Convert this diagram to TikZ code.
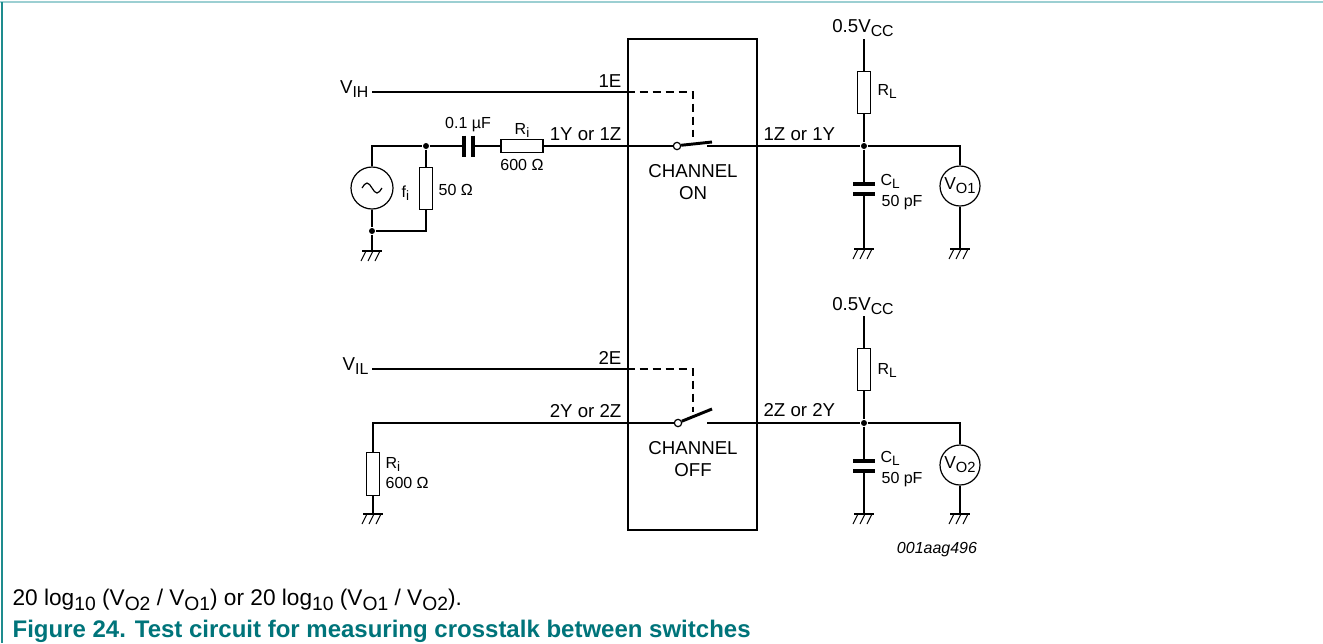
\documentclass[tikz,border=0pt]{standalone}
\usepackage{fontspec}
\setmainfont{Liberation Sans}
\usepackage{graphicx}
\usetikzlibrary{calc}
\definecolor{tealdark}{HTML}{1E8C8E}
\definecolor{teallight}{HTML}{9CCFD2}
\definecolor{capcol}{HTML}{00747A}
\newcommand\sbs[1]{\raisebox{-0.45ex}{\scalebox{0.85}{#1}}}
\begin{document}
\begin{tikzpicture}[x=0.75pt,y=-0.75pt,line width=0.9pt,
  lbl/.style={font=\fontsize{14}{16}\selectfont, inner sep=0pt},
  sml/.style={font=\fontsize{12}{14}\selectfont, inner sep=0pt},
  resv/.style={draw, rectangle, minimum width=9.4pt, minimum height=32pt, inner sep=0pt},
  resh/.style={draw, rectangle, minimum width=31.5pt, minimum height=9.75pt, inner sep=0pt},
  meter/.style={draw, circle, minimum size=30pt, inner sep=0pt, font=\fontsize{13}{16}\selectfont},
  dot/.style={circle, fill, inner sep=0pt, minimum size=4.5pt},
  swc/.style={draw, circle, fill=white, inner sep=0pt, minimum size=5.5pt},
  plate/.style={line width=3pt},
  blade/.style={line width=2.2pt},
  ctl/.style={dash pattern=on 6pt off 3.75pt},
  chan/.style={font=\fontsize{14}{16.5}\selectfont, align=center, inner sep=0pt},
  gnd/.pic={\draw[line width=0.8pt] (-10,0) -- (10,0);
            \foreach \gx in {-6,1,8} \draw[line width=0.8pt] (\gx,0) -- ++(-5,10);}]
\useasboundingbox (0,0) rectangle (1323,643);
% frame
\draw[teallight, line width=1.5pt] (0,2) -- (1323,2);
\draw[tealdark, line width=1.5pt] (2,2) -- (2,643);
% IC box
\node[draw, line width=2.2pt, minimum width=96.75pt, minimum height=368.25pt, inner sep=0pt] (ic) at (692.5,284.5) {};

% ---------- channel 1 ----------
\node[lbl, anchor=base east] (vih) at (369,93) {V\sbs{IH}};
\coordinate (vihs) at (372,92);
\coordinate (k1) at (693,92);
\coordinate (k1e) at (693,137);
\draw (vihs) -- (vihs -| ic.west);
\draw[ctl] (vihs -| ic.west) -- (k1) -- (k1e);
\node[lbl, anchor=base east] (e1) at (622,87) {1E};

\node[draw, circle, minimum size=31.5pt, inner sep=0pt] (src) at (372,188) {};
\draw ($(src)+(-10,0)$) sin ++(5,-5) cos ++(5,5) sin ++(5,5) cos ++(5,-5);
\node[sml, anchor=base west] (fi) at (401,197) {f\sbs{i}};
\node[dot] (j1) at (426,146) {};
\node[resv] (r50) at (426,188.5) {};
\node[sml, anchor=base west] (r50l) at (438,195) {50 Ω};
\node[dot] (j2) at (372,231) {};
\coordinate (g1) at (372,251);
\coordinate (c1l) at (464,146);
\coordinate (c1r) at (473,146);
\node[resh] (ri1) at (522,146) {};
\node[sml, anchor=base] (c1lab) at (468,128) {0.1 µF};
\node[sml, anchor=base] (ri1a) at (522,134) {R\sbs{i}};
\node[sml, anchor=base] (ri1b) at (522,170) {600 Ω};
\node[lbl, anchor=base east] (p1y) at (622,140) {1Y or 1Z};
\draw (src.north) -- (src.north |- j1) -- (j1) -- (c1l);
\draw[plate] ($(c1l)+(0,-10.5)$) -- ($(c1l)+(0,10.5)$);
\draw[plate] ($(c1r)+(0,-10.5)$) -- ($(c1r)+(0,10.5)$);
\draw (c1r) -- (ri1.west);
\draw (j1) -- (r50.north);
\draw (r50.south) -- (r50.south |- j2) -- (j2);
\draw (src.south) -- (j2) -- (g1);
\pic at (g1) {gnd};
\node[swc] (s1) at (677,146) {};
\draw (ri1.east) -- (s1.west);
\coordinate (b1) at (712,142);
\coordinate (t1) at (707,146);
\draw[blade] (s1.10) -- (b1);
\node[chan] (ch1) at (693,182.5) {CHANNEL\\ON};

\node[dot] (j3) at (864,146) {};
\coordinate (k3) at (960,146);
\node[meter] (vo1) at (960,186) {V\sbs{O1}};
\draw (t1) -- (j3) -- (k3) -- (vo1.north);
\node[lbl, anchor=base west] (p1z) at (763,140) {1Z or 1Y};
\node[resv] (rl1) at (864,92.5) {};
\node[lbl, anchor=base] (vcc1) at (863,32) {0.5V\sbs{CC}};
\coordinate (vcc1p) at (864,39);
\draw (vcc1p) -- (rl1.north);
\draw (rl1.south) -- (j3);
\node[sml, anchor=base west] (rl1l) at (877,95) {R\sbs{L}};
\coordinate (c3t) at (864,184);
\coordinate (c3b) at (864,194);
\coordinate (g3) at (864,249);
\coordinate (g4) at (960,249);
\draw (j3) -- (c3t);
\draw[plate] ($(c3t)+(-11,0)$) -- ($(c3t)+(11,0)$);
\draw[plate] ($(c3b)+(-11,0)$) -- ($(c3b)+(11,0)$);
\draw (c3b) -- (g3);
\draw (vo1.south) -- (g4);
\pic at (g3) {gnd};
\pic at (g4) {gnd};
\node[sml, anchor=base west] (cl1a) at (880,185) {C\sbs{L}};
\node[sml, anchor=base west] (cl1b) at (881,206) {50 pF};

% ---------- channel 2 ----------
\node[lbl, anchor=base east] (vil) at (369,370) {V\sbs{IL}};
\coordinate (vils) at (372,369);
\coordinate (k2) at (693,369);
\coordinate (k2e) at (693,412);
\draw (vils) -- (vils -| ic.west);
\draw[ctl] (vils -| ic.west) -- (k2) -- (k2e);
\node[lbl, anchor=base east] (e2) at (622,364) {2E};

\coordinate (k4) at (373,423);
\node[resv] (ri2) at (373,474) {};
\coordinate (g2) at (373,514);
\node[swc] (s2) at (678,423) {};
\draw (s2.west) -- (k4) -- (ri2.north);
\draw (ri2.south) -- (g2);
\pic at (g2) {gnd};
\node[sml, anchor=base west] (ri2a) at (385,468) {R\sbs{i}};
\node[sml, anchor=base west] (ri2b) at (385,488) {600 Ω};
\node[lbl, anchor=base east] (p2y) at (622,417) {2Y or 2Z};
\coordinate (b2) at (712,409);
\coordinate (t2) at (707,423);
\draw[blade] (s2.25) -- (b2);
\node[chan] (ch2) at (693,459.5) {CHANNEL\\OFF};

\node[dot] (j4) at (864,423) {};
\coordinate (k5) at (960,423);
\node[meter] (vo2) at (960,465) {V\sbs{O2}};
\draw (t2) -- (j4) -- (k5) -- (vo2.north);
\node[lbl, anchor=base west] (p2z) at (763,416) {2Z or 2Y};
\node[resv] (rl2) at (864,369.5) {};
\node[lbl, anchor=base] (vcc2) at (863,310) {0.5V\sbs{CC}};
\coordinate (vcc2p) at (864,316);
\draw (vcc2p) -- (rl2.north);
\draw (rl2.south) -- (j4);
\node[sml, anchor=base west] (rl2l) at (877,374) {R\sbs{L}};
\coordinate (c4t) at (864,461);
\coordinate (c4b) at (864,471);
\coordinate (g5) at (864,514);
\coordinate (g6) at (960,514);
\draw (j4) -- (c4t);
\draw[plate] ($(c4t)+(-11,0)$) -- ($(c4t)+(11,0)$);
\draw[plate] ($(c4b)+(-11,0)$) -- ($(c4b)+(11,0)$);
\draw (c4b) -- (g5);
\draw (vo2.south) -- (g6);
\pic at (g5) {gnd};
\pic at (g6) {gnd};
\node[sml, anchor=base west] (cl2a) at (880,462) {C\sbs{L}};
\node[sml, anchor=base west] (cl2b) at (881,483) {50 pF};

\node[font={\fontsize{12}{14}\selectfont\itshape}, inner sep=0pt, anchor=base] (code) at (937,553) {001aag496};

% ---------- text below ----------
\node[font=\fontsize{17}{20}\selectfont, inner sep=0pt, anchor=base west] (eq) at (12,605) {20 log\sbs{10} (V\sbs{O2} / V\sbs{O1}) or 20 log\sbs{10} (V\sbs{O1} / V\sbs{O2}).};
\node[font={\fontsize{18}{20}\selectfont\bfseries}, text=capcol, inner sep=0pt, anchor=base west] (cap) at (12,637) {Figure 24. Test circuit for measuring crosstalk between switches};
\end{tikzpicture}
\end{document}
